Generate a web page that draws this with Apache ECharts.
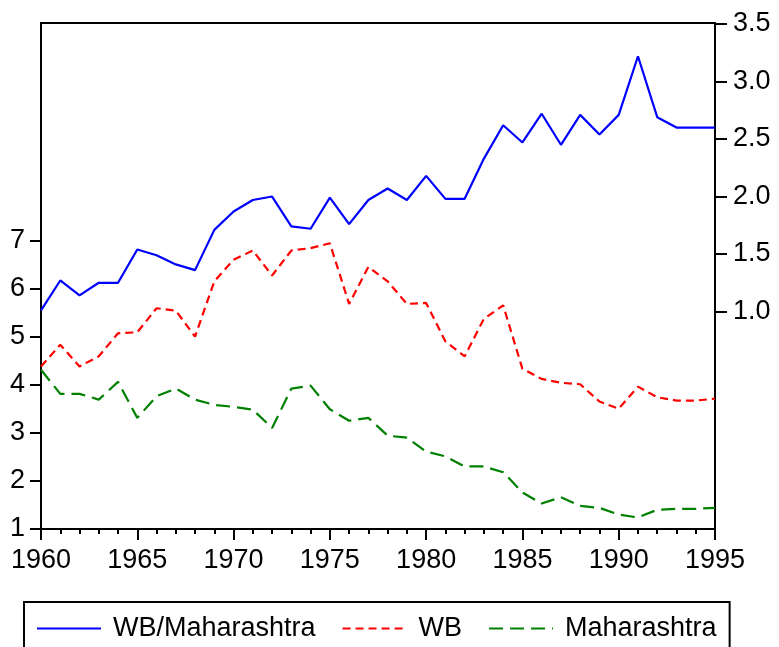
<!DOCTYPE html>
<html>
<head>
<meta charset="utf-8">
<script src="https://cdn.jsdelivr.net/npm/echarts@6/dist/echarts.min.js"></script>
<style>html,body{margin:0;padding:0;background:#fff}#c{width:779px;height:647px}</style>
</head>
<body>
<div id="c"></div>
<script>
const years = [1960,1961,1962,1963,1964,1965,1966,1967,1968,1969,1970,1971,1972,1973,1974,1975,1976,1977,1978,1979,1980,1981,1982,1983,1984,1985,1986,1987,1988,1989,1990,1991,1992,1993,1994,1995];
const ratioWBMaharashtra = [1.01,1.27,1.14,1.25,1.25,1.54,1.49,1.41,1.36,1.71,1.87,1.97,2.00,1.74,1.72,1.99,1.76,1.97,2.07,1.97,2.18,1.98,1.98,2.33,2.62,2.47,2.72,2.45,2.71,2.54,2.71,3.22,2.69,2.60,2.60,2.60];
const wb = [4.38,4.83,4.38,4.59,5.07,5.09,5.59,5.54,5.00,6.15,6.60,6.79,6.27,6.79,6.84,6.94,5.68,6.45,6.15,5.68,5.70,4.90,4.59,5.37,5.65,4.33,4.12,4.04,4.01,3.65,3.50,3.96,3.74,3.67,3.67,3.71];
const maharashtra = [4.31,3.81,3.81,3.69,4.06,3.31,3.76,3.92,3.69,3.58,3.54,3.48,3.10,3.92,3.98,3.49,3.25,3.31,2.94,2.90,2.61,2.51,2.30,2.30,2.18,1.76,1.53,1.66,1.48,1.44,1.30,1.24,1.40,1.42,1.42,1.44];
const leftTicks = [1,2,3,4,5,6,7];
const rightTicks = [1.0,1.5,2.0,2.5,3.0,3.5];
const xTicks = [1960,1965,1970,1975,1980,1985,1990,1995];
const seriesNames = ['WB/Maharashtra','WB','Maharashtra'];

const FONT = "'Liberation Sans', Arial, sans-serif";
const pair = arr => years.map((y,i)=>[y,arr[i]]);
const chart = echarts.init(document.getElementById('c'), null, {renderer:'canvas'});
chart.setOption({
  animation:false,
  backgroundColor:'#fff',
  textStyle:{fontFamily:FONT},
  grid:{left:41, top:23, right:64, bottom:118, show:true, borderColor:'#000', borderWidth:2, backgroundColor:'transparent'},
  legend:{
    left:24, top:602, orient:'horizontal',
    data:seriesNames,
    itemWidth:64, itemHeight:2, itemGap:26,
    itemStyle:{opacity:0},
    borderColor:'#000', borderWidth:2, padding:[13,13,40,12],
    textStyle:{fontFamily:FONT, fontSize:27, color:'#000', padding:[0,0,0,7]}
  },
  xAxis:{
    type:'value', min:1960, max:1995, interval:5,
    axisLine:{show:true, onZero:false, lineStyle:{color:'#000', width:2}},
    axisTick:{show:true, length:11, lineStyle:{color:'#000', width:2}},
    minorTick:{show:true, splitNumber:5, length:5, lineStyle:{color:'#000', width:2}},
    splitLine:{show:false}, minorSplitLine:{show:false},
    axisLabel:{fontFamily:FONT, fontSize:27, color:'#000', margin:18, customValues:xTicks, formatter:v=>String(v)}
  },
  yAxis:[
    {
      type:'value', min:1, max:11.52, position:'left',
      axisLine:{show:true, onZero:false, lineStyle:{color:'#000', width:2}},
      axisTick:{show:true, length:11, customValues:leftTicks, lineStyle:{color:'#000', width:2}},
      splitLine:{show:false},
      axisLabel:{fontFamily:FONT, fontSize:27, color:'#000', margin:16, customValues:leftTicks, formatter:v=>String(v)}
    },
    {
      type:'value', min:-0.891, max:3.509, position:'right',
      axisLine:{show:true, onZero:false, lineStyle:{color:'#000', width:2}},
      axisTick:{show:true, length:12, customValues:rightTicks, lineStyle:{color:'#000', width:2}},
      splitLine:{show:false},
      axisLabel:{fontFamily:FONT, fontSize:27, color:'#000', margin:18, customValues:rightTicks, formatter:v=>v.toFixed(1)}
    }
  ],
  series:[
    {name:seriesNames[0], type:'line', yAxisIndex:1, data:pair(ratioWBMaharashtra), symbol:'none', showSymbol:false,
     lineStyle:{color:'#0000ff', width:2.2}, itemStyle:{color:'#0000ff'}},
    {name:seriesNames[1], type:'line', yAxisIndex:0, data:pair(wb), symbol:'none', showSymbol:false,
     lineStyle:{color:'#ff0000', width:2.2, type:[8,5]}, itemStyle:{color:'#ff0000'}},
    {name:seriesNames[2], type:'line', yAxisIndex:0, data:pair(maharashtra), symbol:'none', showSymbol:false,
     lineStyle:{color:'#008000', width:2.2, type:[14,7]}, itemStyle:{color:'#008000'}}
  ]
});
</script>
</body>
</html>
